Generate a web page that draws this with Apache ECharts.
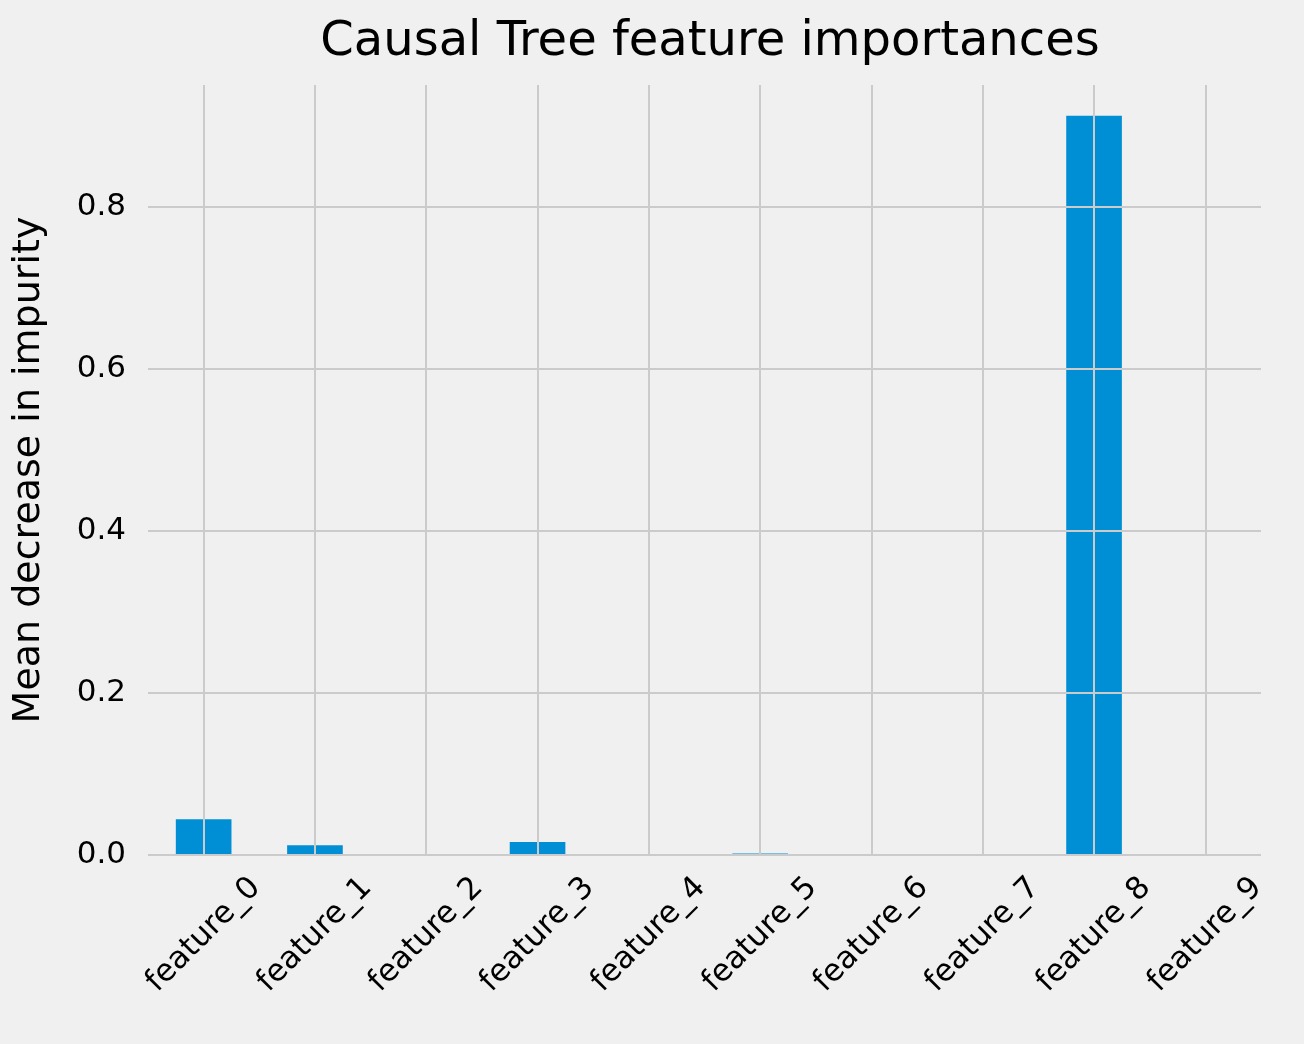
<!DOCTYPE html>
<html><head><meta charset="utf-8">
<script src="https://cdn.jsdelivr.net/npm/echarts@6/dist/echarts.min.js"></script>
<style>html,body{margin:0;background:#f0f0f0}#c{width:1304px;height:1044px}</style>
</head><body><div id="c"></div>
<script>
var features = ['feature_0','feature_1','feature_2','feature_3','feature_4','feature_5','feature_6','feature_7','feature_8','feature_9'];
var importances = [0.044, 0.012, 0, 0.016, 0, 0.002, 0, 0, 0.912, 0];
var yTicks = [0, 0.2, 0.4, 0.6, 0.8];

var chart = echarts.init(document.getElementById('c'));
var font = 'DejaVu Sans';
var gridLine = { color: '#cbcbcb', width: 2, type: 'solid' };
chart.setOption({
    backgroundColor: '#f0f0f0',
    animation: false,
    textStyle: { fontFamily: font },
    title: {
        text: 'Causal Tree feature importances',
        left: 705, top: 14, textAlign: 'center',
        textStyle: { fontFamily: font, fontSize: 48, fontWeight: 'normal', color: '#000' }
    },
    grid: { left: 148, right: 43, top: 85, bottom: 189 },
    xAxis: {
        type: 'category',
        data: features,
        axisLine: { show: false },
        axisTick: { show: false },
        splitLine: { show: false },
        axisLabel: {
            rotate: 45, interval: 0, fontSize: 31, color: '#000',
            fontFamily: font, margin: 80, align: 'center', verticalAlign: 'middle'
        }
    },
    yAxis: {
        type: 'value',
        min: 0, max: 0.95, interval: 0.2,
        name: 'Mean decrease in impurity',
        nameLocation: 'middle', nameGap: 100,
        nameTextStyle: { fontSize: 38, color: '#000', fontFamily: font },
        axisLine: { show: false },
        axisTick: { show: false },
        axisLabel: {
            fontSize: 31, color: '#000', fontFamily: font, margin: 22, showMaxLabel: false,
            formatter: function (v) { return v > 0.9 ? '' : v.toFixed(1); }
        },
        splitLine: { show: false }
    },
    series: [
        {
            type: 'line', data: [], z: 1, silent: true,
            markLine: {
                silent: true, symbol: 'none', label: { show: false },
                lineStyle: gridLine,
                data: features.map(function (f) { return { xAxis: f }; })
                    .concat(yTicks.map(function (t) { return { yAxis: t }; }))
            }
        },
        {
            type: 'bar', data: importances, z: 3,
            barWidth: '50%',
            itemStyle: { color: '#008fd5' }
        }
    ]
});
</script></body></html>
